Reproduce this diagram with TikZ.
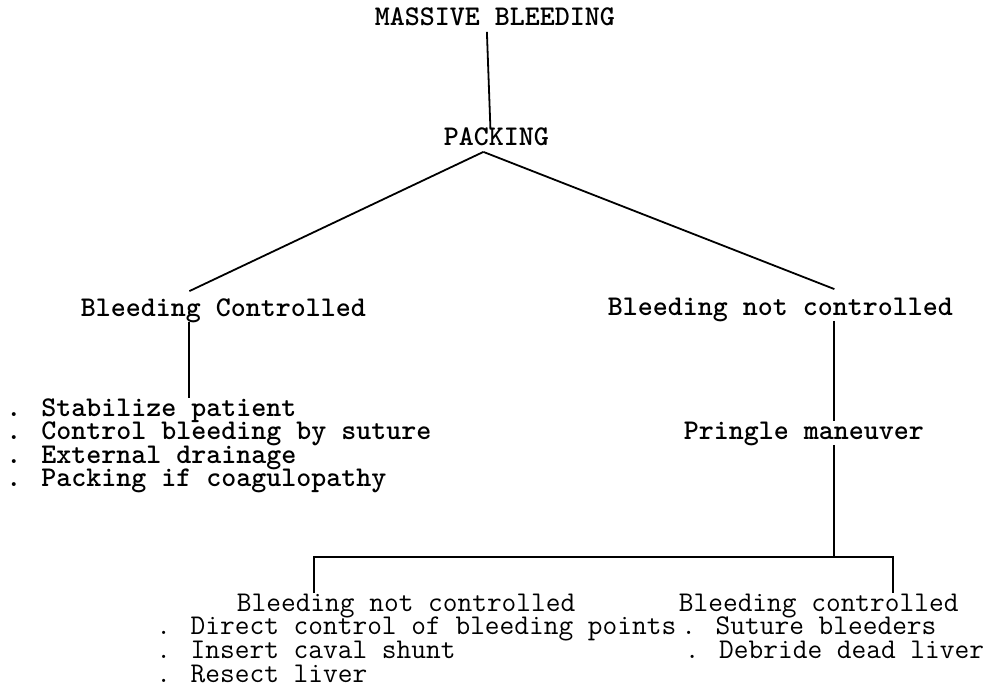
\documentclass[tikz,border=0pt]{standalone}
\usepackage{tikz}
\usetikzlibrary{calc, positioning}

\newcommand{\typew}{\fontsize{28.57}{32}\selectfont\ttfamily}

\begin{document}
\begin{tikzpicture}[x=1pt, y=-1pt, line width=1.8pt,
    lbl/.style={inner sep=0pt, text height=17pt, text depth=5pt, anchor=west, font=\typew\bfseries},
    thinlbl/.style={lbl, font=\typew}]

    \useasboundingbox (0,0) rectangle (991,690);

    % =================================================================
    % 1. TOP OF THE TREE
    % =================================================================
    \node[lbl] (massive) at (374,20) {MASSIVE BLEEDING};
    \node[lbl] (packing) at (443,140) {PACKING};

    % =================================================================
    % 2. THE TWO BRANCHES
    % =================================================================
    \node[lbl] (bctrl) at (80,310) {Bleeding Controlled};
    \node[lbl] (bnot) at (607,309) {Bleeding not controlled};

    % left list
    \node[lbl] (left1) at (5.5,410) {. Stabilize patient};
    \node[lbl] (left2) at (5.5,433.5) {. Control bleeding by suture};
    \node[lbl] (left3) at (5.5,457) {. External drainage};
    \node[lbl] (left4) at (5.5,480.5) {. Packing if coagulopathy};

    % right side
    \node[lbl] (pringle) at (683,433) {Pringle maneuver};

    % =================================================================
    % 3. BOTTOM ROW AFTER PRINGLE
    % =================================================================
    \node[thinlbl] (bnot2) at (236,605) {Bleeding not controlled};
    \node[thinlbl] (bctrl2) at (678,605) {Bleeding controlled};

    \node[thinlbl] (low1) at (155.5,628.5) {. Direct control of bleeding points};
    \node[thinlbl] (low2) at (155.5,652.5) {. Insert caval shunt};
    \node[thinlbl] (low3) at (155.5,676.5) {. Resect liver};

    \node[thinlbl] (ok1) at (680.5,628.5) {. Suture bleeders};
    \node[thinlbl] (ok2) at (684,652.5) {. Debride dead liver};

    % =================================================================
    % 4. CONNECTING LINES
    % =================================================================
    \draw ([xshift=-8pt]massive.south) -- ([xshift=-6pt]packing.north);

    \coordinate (apex) at ([xshift=-13pt]packing.south);
    \draw (apex) -- ([xshift=-34pt,yshift=7pt]bctrl.north);
    \draw (apex) -- ([xshift=54pt,yshift=8pt]bnot.north);

    \draw ([xshift=-34pt]bctrl.south) -- ([xshift=-34pt]bctrl.south |- left1.north);
    \draw ([xshift=53.5pt]bnot.south) -- ([xshift=53.5pt]bnot.south |- pringle.north);

    % fork below the Pringle maneuver
    \coordinate (fork) at ([xshift=30pt]pringle.south |- 0,557);
    \draw ([xshift=30pt]pringle.south) -- (fork);
    \draw ([xshift=-92.5pt]bnot2.north) |- (fork) -| ([xshift=74.5pt]bctrl2.north);

\end{tikzpicture}
\end{document}
